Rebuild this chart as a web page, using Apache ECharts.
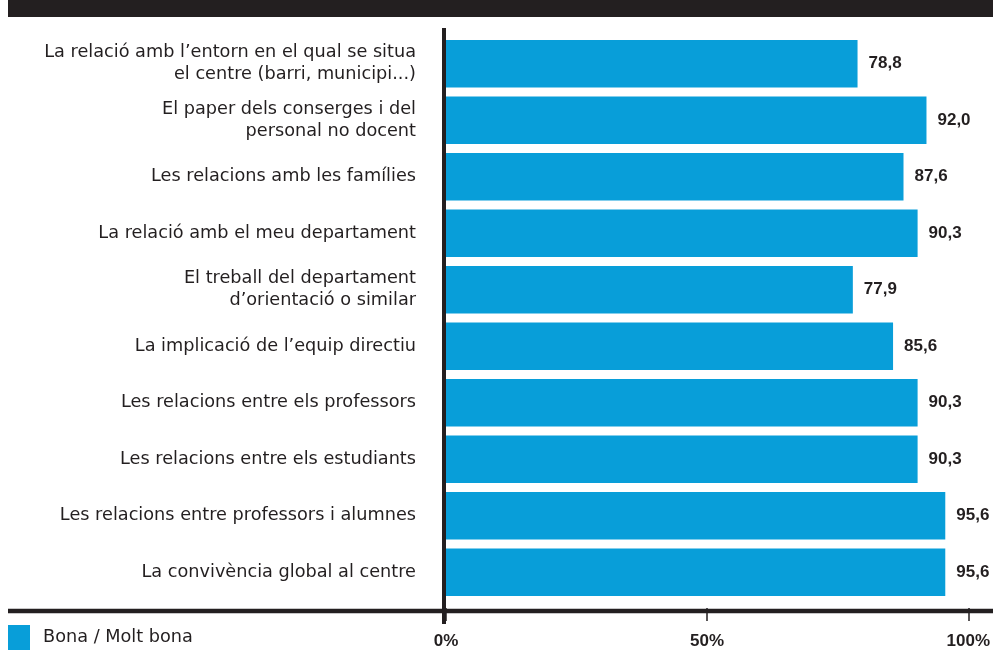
<!DOCTYPE html>
<html><head><meta charset="utf-8">
<script src="https://cdn.jsdelivr.net/npm/echarts@6/dist/echarts.min.js"></script>
<style>html,body{margin:0;padding:0;background:#fff}#c{width:993px;height:650px}</style>
</head><body><div id="c"></div>
<script>
var categories = [
  "La relació amb l’entorn en el qual se situa\nel centre (barri, municipi...)",
  "El paper dels conserges i del\npersonal no docent",
  "Les relacions amb les famílies",
  "La relació amb el meu departament",
  "El treball del departament\nd’orientació o similar",
  "La implicació de l’equip directiu",
  "Les relacions entre els professors",
  "Les relacions entre els estudiants",
  "Les relacions entre professors i alumnes",
  "La convivència global al centre"
];
var values = [78.8, 92.0, 87.6, 90.3, 77.9, 85.6, 90.3, 90.3, 95.6, 95.6];
var seriesName = "Bona / Molt bona";
var tickLabels = {0: "0%", 50: "50%", 100: "100%"};

var dark = '#231f20';
var blue = '#089ed9';
var labelFont = 'DejaVu Sans, Liberation Sans, sans-serif';
var boldFont = 'Liberation Sans, Arial, sans-serif';
var chart = echarts.init(document.getElementById('c'), null, {renderer: 'canvas'});
chart.setOption({
  animation: false,
  textStyle: {fontFamily: boldFont},
  grid: {left: 446, right: 22, top: 35.5, bottom: 46.6, containLabel: false},
  legend: {
    data: [seriesName], left: 8, top: 625, padding: 0, itemWidth: 22, itemHeight: 25, itemGap: 10,
    icon: 'rect', textStyle: {fontSize: 17.7, fontFamily: labelFont, color: dark, padding: [6, 0, 0, 8]}
  },
  xAxis: {
    type: 'value', min: 0, max: 100, interval: 50, offset: 7.6,
    axisLine: {show: false},
    axisTick: {show: true, length: 13, lineStyle: {color: dark, width: 1.5}},
    splitLine: {show: false},
    axisLabel: {margin: 25, fontSize: 17, fontWeight: 'bold', color: dark, fontFamily: boldFont,
      formatter: function(v){ return tickLabels[v] || ''; }}
  },
  yAxis: {
    type: 'category', data: categories, inverse: true,
    axisLine: {show: false}, axisTick: {show: false},
    axisLabel: {margin: 30, fontSize: 17.7, fontFamily: labelFont, color: dark, lineHeight: 22, align: 'right'}
  },
  series: [{
    name: seriesName, type: 'bar', data: values, barCategoryGap: '16%',
    itemStyle: {color: blue},
    label: {show: true, position: 'right', distance: 11, fontSize: 17, fontWeight: 'bold', color: dark,
      fontFamily: boldFont,
      formatter: function(p){ return p.value.toFixed(1).replace('.', ','); }}
  }],
  graphic: [
    {type: 'rect', shape: {x: 8, y: 0, width: 985, height: 17}, style: {fill: dark}, z: 10},
    {type: 'line', shape: {x1: 444, y1: 28, x2: 444, y2: 624}, style: {stroke: dark, lineWidth: 4}, z: 10},
    {type: 'line', shape: {x1: 8, y1: 611, x2: 993, y2: 611}, style: {stroke: dark, lineWidth: 4.5}, z: 10}
  ]
});
</script></body></html>
